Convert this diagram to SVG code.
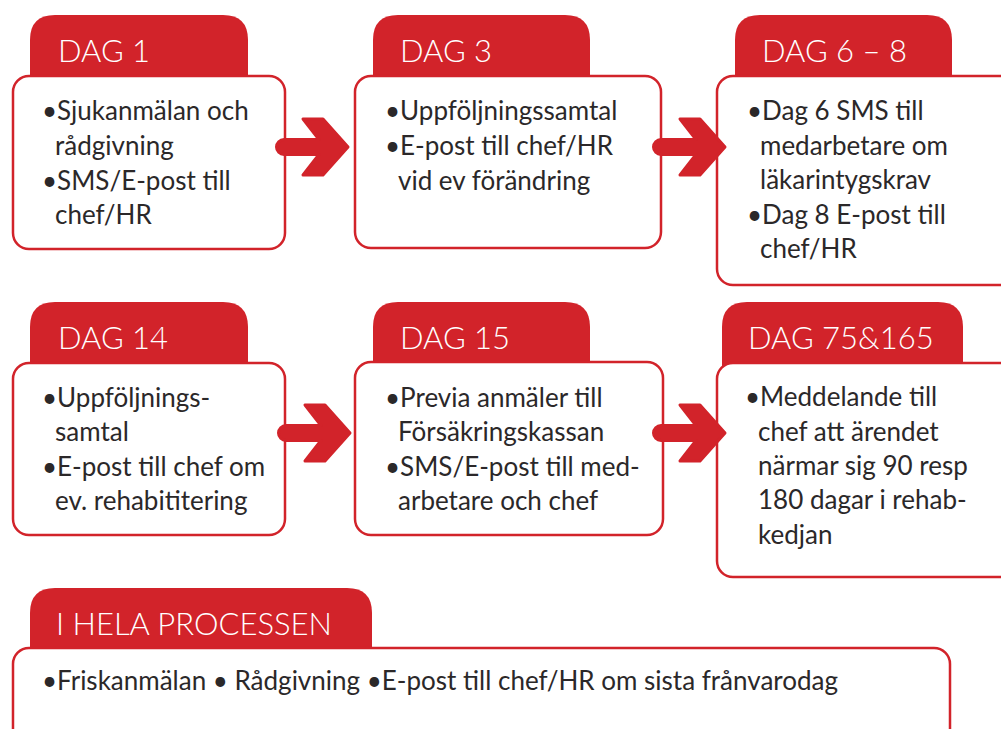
<svg xmlns="http://www.w3.org/2000/svg" width="1001" height="729" viewBox="0 0 1001 729">
<defs>
<style>
.tab{fill:#d2232a}
.box{fill:#fff;stroke:#d2232a;stroke-width:2.5}
.hd{font-family:Lato,"Liberation Sans",sans-serif;font-size:31px;font-weight:300;fill:#fff}
.tx{font-family:Lato,"Liberation Sans",sans-serif;font-size:26px;font-weight:400;fill:#2b2829}
.arr{fill:#d2232a;stroke:#d2232a;stroke-width:3;stroke-linejoin:round}
</style>
<path id="arrow" d="M -65,-7.5 L -30,-7.5 L -46,-28 L -26,-28 L -1,0 L -26,28 L -46,28 L -30,7.5 L -65,7.5 A 7.5 7.5 0 0 1 -65,-7.5 Z"/>
</defs>
<g id="dag1">
<path class="tab" d="M30,90 V40 Q30,15 55,15 H223 Q248,15 248,40 V90 Z"/>
<rect class="box" x="13" y="76" width="272" height="173" rx="16"/>
<text class="hd" x="58" y="62">DAG 1</text>
<text class="tx"><tspan x="42" y="120">•Sjukanmälan och</tspan><tspan x="55" y="155">rådgivning</tspan><tspan x="42" y="190">•SMS/E-post till</tspan><tspan x="55" y="224">chef/HR</tspan></text>
</g>
<g id="dag3">
<path class="tab" d="M373,90 V40 Q373,15 398,15 H565 Q590,15 590,40 V90 Z"/>
<rect class="box" x="355" y="76" width="306" height="172" rx="16"/>
<text class="hd" x="400" y="62">DAG 3</text>
<text class="tx"><tspan x="385" y="120">•Uppföljningssamtal</tspan><tspan x="385" y="155">•E-post till chef/HR</tspan><tspan x="398" y="190">vid ev förändring</tspan></text>
</g>
<g id="dag6-8">
<path class="tab" d="M735,90 V40 Q735,15 760,15 H927 Q952,15 952,40 V90 Z"/>
<rect class="box" x="717" y="76" width="300" height="209" rx="16"/>
<text class="hd" x="762" y="62">DAG 6 – 8</text>
<text class="tx"><tspan x="747" y="120">•Dag 6 SMS till</tspan><tspan x="760" y="155">medarbetare om</tspan><tspan x="760" y="189">läkarintygskrav</tspan><tspan x="747" y="224">•Dag 8 E-post till</tspan><tspan x="760" y="258">chef/HR</tspan></text>
</g>
<g id="dag14">
<path class="tab" d="M30,377 V327 Q30,302 55,302 H223 Q248,302 248,327 V377 Z"/>
<rect class="box" x="13" y="363" width="272" height="172" rx="16"/>
<text class="hd" x="58" y="349">DAG 14</text>
<text class="tx"><tspan x="42" y="407">•Uppföljnings-</tspan><tspan x="55" y="441">samtal</tspan><tspan x="42" y="476">•E-post till chef om</tspan><tspan x="55" y="510">ev. rehabititering</tspan></text>
</g>
<g id="dag15">
<path class="tab" d="M373,377 V327 Q373,302 398,302 H565 Q590,302 590,327 V377 Z"/>
<rect class="box" x="355" y="362" width="308" height="173" rx="16"/>
<text class="hd" x="400" y="349">DAG 15</text>
<text class="tx"><tspan x="385" y="407">•Previa anmäler till</tspan><tspan x="398" y="441">Försäkringskassan</tspan><tspan x="385" y="476">•SMS/E-post till med-</tspan><tspan x="398" y="510">arbetare och chef</tspan></text>
</g>
<g id="dag75-165">
<path class="tab" d="M722,377 V327 Q722,302 747,302 H938 Q963,302 963,327 V377 Z"/>
<rect class="box" x="717" y="363" width="300" height="214" rx="16"/>
<text class="hd" x="748" y="349">DAG 75&amp;165</text>
<text class="tx"><tspan x="745" y="406">•Meddelande till</tspan><tspan x="758" y="441">chef att ärendet</tspan><tspan x="758" y="475">närmar sig 90 resp</tspan><tspan x="758" y="509">180 dagar i rehab-</tspan><tspan x="758" y="544">kedjan</tspan></text>
</g>
<g id="hela-processen">
<path class="tab" d="M30,662 V613 Q30,588 55,588 H347 Q372,588 372,613 V662 Z"/>
<rect class="box" x="13" y="648" width="937" height="120" rx="16"/>
<text class="hd" x="56" y="635">I HELA PROCESSEN</text>
<text class="tx" x="42" y="690">•Friskanmälan • Rådgivning •E-post till chef/HR om sista frånvarodag</text>
</g>
<g id="connectors">
<use href="#arrow" class="arr" x="349" y="147"/>
<use href="#arrow" class="arr" x="726" y="147"/>
<use href="#arrow" class="arr" x="351" y="433"/>
<use href="#arrow" class="arr" x="726" y="433"/>
</g>
</svg>
